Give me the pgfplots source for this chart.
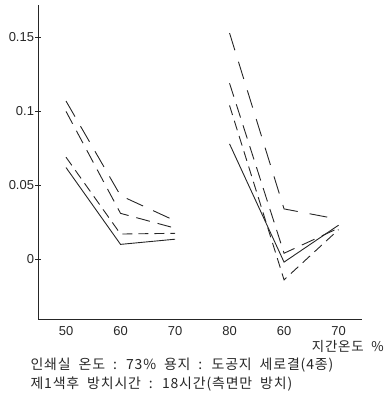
\documentclass[border=0pt]{standalone}
\usepackage{pgfplots}
\pgfplotsset{compat=1.18}
\usepackage{fontspec}
\setmainfont{Liberation Sans}
\newfontfamily\kr[LetterSpace=6]{Noto Sans CJK KR}
\begin{document}
\begin{tikzpicture}
\useasboundingbox (0,0) rectangle (386bp,397bp);
\begin{axis}[
  at={(38bp,78bp)}, anchor=south west,
  scale only axis, width=324bp, height=314bp,
  xmin=-0.514, xmax=5.43, ymin=-0.0405, ymax=0.172,
  axis x line=bottom, axis y line=left,
  axis line style={-, line width=0.9bp, black!85},
  xtick={0,1,2,3,4,5}, xticklabels={50,60,70,80,60,70},
  x tick style={draw=none},
  ytick={0,0.05,0.1,0.15}, yticklabels={0,0.05,0.1,0.15},
  y tick style={line width=0.8bp, black!85},
  tick align=center, major tick length=5bp,
  tick label style={font=\fontsize{13}{14}\selectfont, text=black!85},
  /pgf/number format/assume math mode=true,
  xticklabel style={yshift=-1bp},
  yticklabel style={xshift=2bp},
  clip=false,
  every axis plot/.append style={line width=0.9bp, black!85},
]
% Left group
\addplot[solid] coordinates {(0,0.062) (1,0.010) (2,0.0135)};
\addplot[dash pattern=on 10bp off 6bp] coordinates {(0,0.069) (1,0.017) (2,0.0175)};
\addplot[dash pattern=on 14bp off 8bp] coordinates {(0,0.100) (1,0.031) (2,0.021)};
\addplot[dash pattern=on 18bp off 11bp] coordinates {(0,0.107) (1,0.043) (2,0.026)};
% Right group
\addplot[solid] coordinates {(3,0.078) (4,-0.002) (5,0.023)};
\addplot[dash pattern=on 10bp off 6bp] coordinates {(3,0.104) (4,-0.014) (5,0.020)};
\addplot[dash pattern=on 14bp off 8bp] coordinates {(3,0.119) (4,0.004) (5,0.021)};
\addplot[dash pattern=on 18bp off 12bp] coordinates {(3,0.153) (4,0.034) (5,0.027)};
\end{axis}
\node[anchor=east, font=\kr\fontsize{13.5}{15}\selectfont, text=black!85, inner sep=1bp] at (385bp,51bp) {지간온도 \ \%};
\node[anchor=west, font=\kr\fontsize{14}{16}\selectfont, text=black!85] at (27bp,32bp) {인쇄실 \ 온도 \ : \ 73\% \ 용지 \ : \ 도공지 \ 세로결(4종)};
\node[anchor=west, font=\kr\fontsize{14}{16}\selectfont, text=black!85] at (27bp,13bp) {제1색후 \ 방치시간 \ : \ 18시간(측면만 \ 방치)};
\end{tikzpicture}
\end{document}
